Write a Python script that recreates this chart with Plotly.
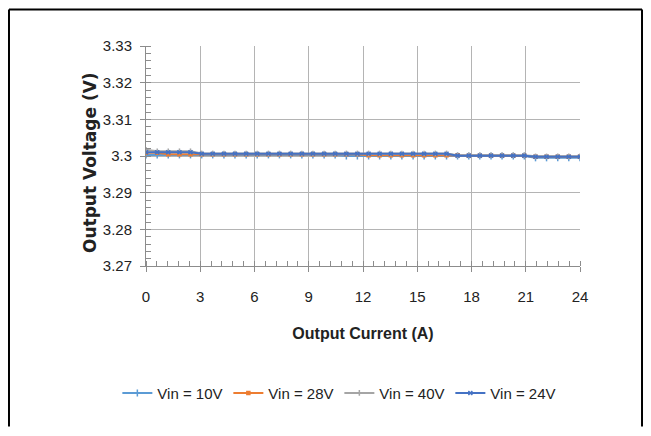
import plotly.graph_objects as go

current = [0, 0.62, 1.23, 1.85, 2.46, 3.08, 3.69, 4.31, 4.92, 5.54,
           6.15, 6.77, 7.38, 8.0, 8.62, 9.23, 9.85, 10.46, 11.08, 11.69,
           12.31, 12.92, 13.54, 14.15, 14.77, 15.38, 16.0, 16.62, 17.23, 17.85,
           18.46, 19.08, 19.69, 20.31, 20.92, 21.54, 22.15, 22.77, 23.38, 24.0]

vin10 = [3.3003] * 18 + [3.3000] * 17 + [3.2995] * 5
vin28 = [3.3009] * 2 + [3.3005] * 18 + [3.3002] * 9 + [3.3001] * 6 + [3.2998] * 5
vin40 = [3.3017] + [3.3013] * 4 + [3.3007] * 23 + [3.3002] * 7 + [3.2999] * 5
vin24 = [3.3010] * 5 + [3.3006] * 23 + [3.3001] * 7 + [3.2998] * 5

y_ticks = [3.27, 3.28, 3.29, 3.30, 3.31, 3.32, 3.33]
y_labels = ["3.27", "3.28", "3.29", "3.3", "3.31", "3.32", "3.33"]
x_ticks = [0, 3, 6, 9, 12, 15, 18, 21, 24]

series = [
    ("Vin = 10V", vin10, "#5B9BD5", "line-ns", 5),
    ("Vin = 28V", vin28, "#ED7D31", "square", 3),
    ("Vin = 40V", vin40, "#A5A5A5", "line-ns", 4),
    ("Vin = 24V", vin24, "#4472C4", "x-thin", 4),
]

fnt = "Liberation Sans, Arial, sans-serif"

fig = go.Figure()
for name, ys, col, sym, size in series:
    fig.add_trace(go.Scatter(
        x=current, y=ys, name=name, mode="lines+markers",
        line=dict(color=col, width=2),
        marker=dict(symbol=sym, size=size, color=col,
                    line=dict(color=col, width=1.5)),
    ))

# chart-area frame: left, top and right edges only (bottom is cut off in the original)
frame = dict(type="line", xref="paper", yref="paper", line=dict(color="black", width=2))
left, right, top, bottom = -0.3157, 1.1429, 1.166, -0.73

# page body has an 8px margin: keep the figure inside the window
grid = "#b4b4b4"
fig.update_layout(
    width=635, height=420,
    margin=dict(l=138, r=63, t=38, b=162),
    paper_bgcolor="white", plot_bgcolor="white",
    font=dict(family=fnt, size=15, color="#222"),
    showlegend=True,
    legend=dict(orientation="h", x=-0.066, xanchor="left", y=-0.578, yanchor="middle",
                font=dict(family=fnt, size=15), entrywidth=66, entrywidthmode="pixels",
                itemwidth=30, traceorder="normal"),
    xaxis=dict(
        range=[0, 24], tickvals=x_ticks, showgrid=True, gridcolor=grid, gridwidth=1,
        showline=True, linecolor="#8c8c8c", linewidth=1, automargin=False,
        ticks="outside", ticklen=5, tickcolor="#8c8c8c", ticklabelstandoff=12,
        minor=dict(dtick=0.6, tick0=0, ticks="inside", ticklen=5, tickcolor="#8c8c8c", showgrid=False),
        zeroline=False,
        title=dict(text="<b>Output Current (A)</b>", font=dict(family=fnt, size=16), standoff=23),
    ),
    yaxis=dict(
        range=[3.27, 3.33], tickvals=y_ticks, ticktext=y_labels,
        showgrid=True, gridcolor=grid, gridwidth=1,
        showline=True, linecolor="#8c8c8c", linewidth=1, automargin=False,
        ticks="outside", ticklen=5, tickcolor="#8c8c8c", ticklabelstandoff=5,
        minor=dict(dtick=0.002, tick0=3.27, ticks="inside", ticklen=5, tickcolor="#8c8c8c", showgrid=False),
        zeroline=False,
    ),
    annotations=[dict(text="<b>Output Voltage (V)</b>", xref="paper", yref="paper",
                      x=-0.129, y=0.468, xanchor="center", yanchor="middle", textangle=-90,
                      showarrow=False, font=dict(family="DejaVu Sans", size=17, color="#222"))],
    shapes=[
        dict(frame, x0=left, x1=left, y0=bottom, y1=top),
        dict(frame, x0=left, x1=right, y0=top, y1=top),
        dict(frame, x0=right, x1=right, y0=bottom, y1=top),
    ],
)

fig.write_html("out.html")
